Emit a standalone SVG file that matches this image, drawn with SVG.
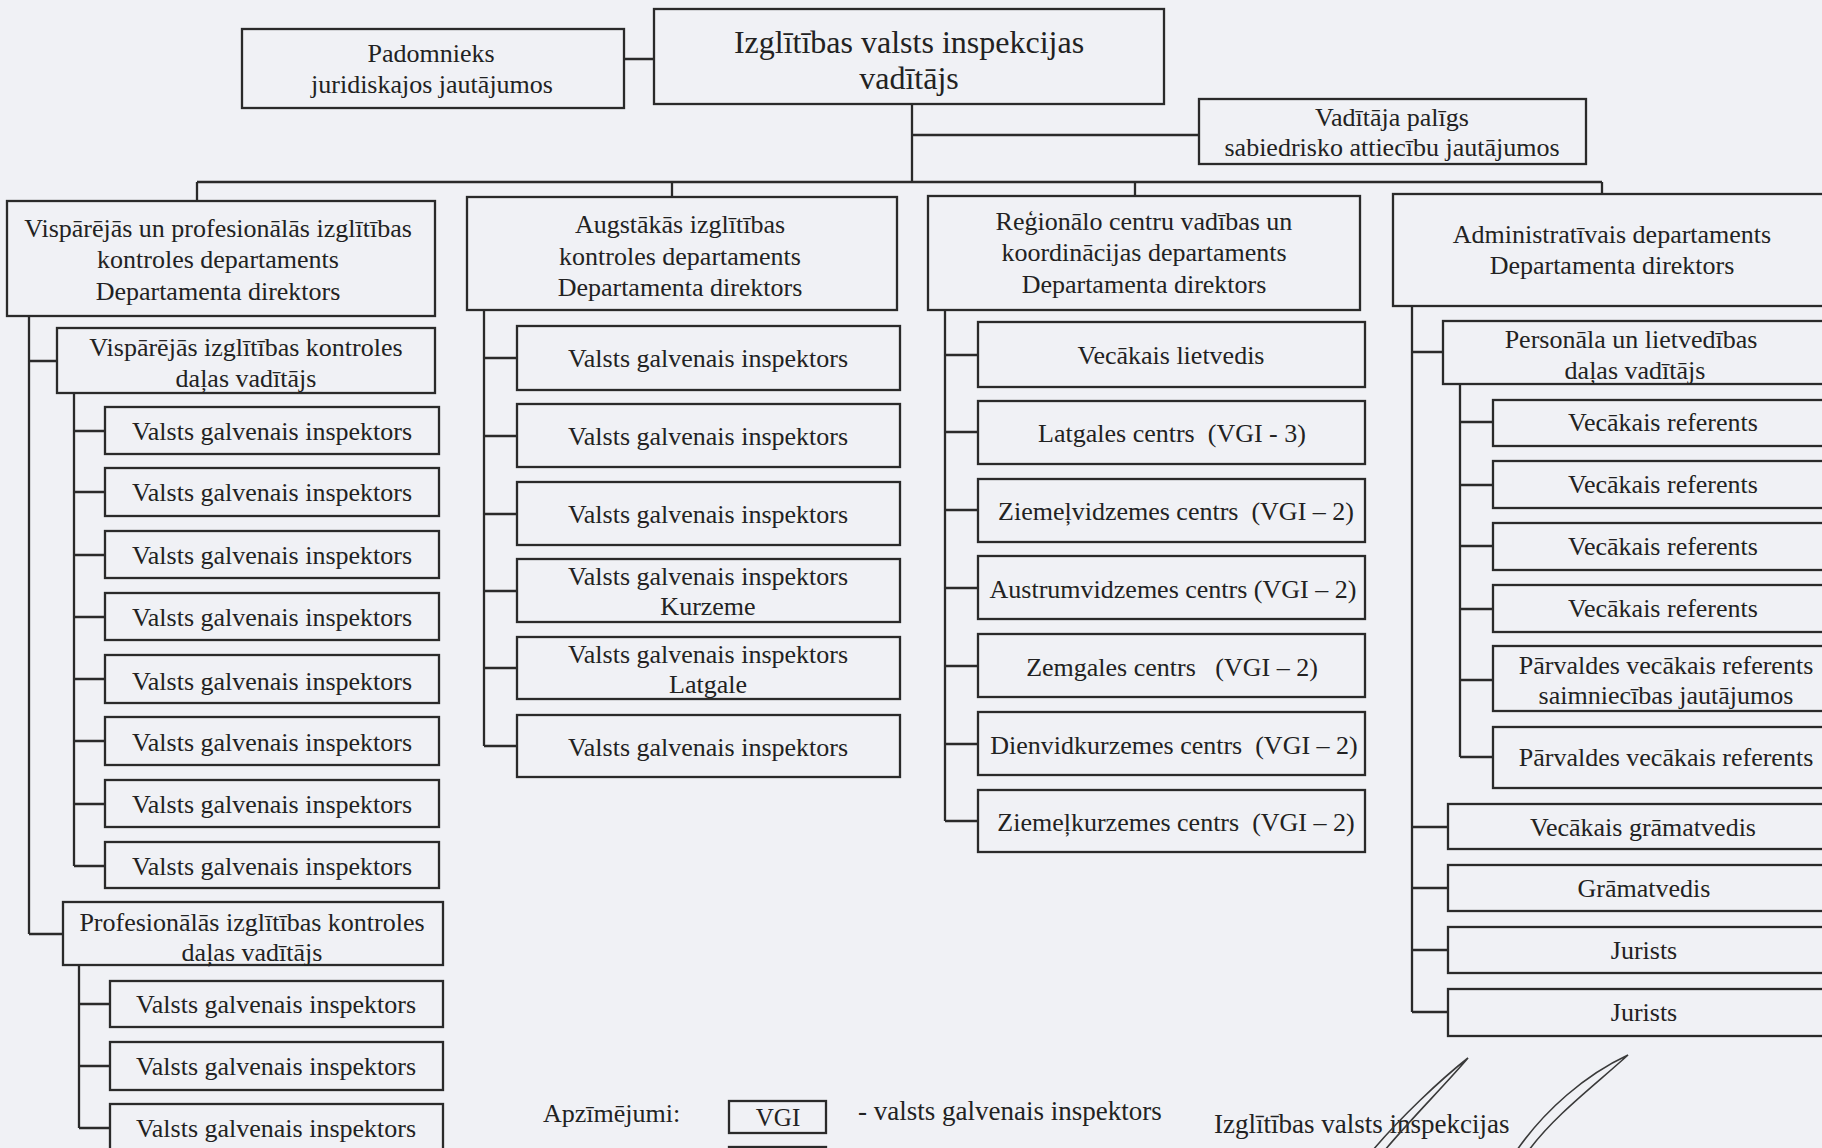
<svg xmlns="http://www.w3.org/2000/svg" width="1822" height="1148" viewBox="0 0 1822 1148">
<style>
.bg{fill:#f0f1f5}
.box{fill:none;stroke:#2a2a2a;stroke-width:2.3}
.conn{fill:none;stroke:#2a2a2a;stroke-width:2.3}
.t{font-family:"Liberation Serif","Times New Roman",serif;font-size:26px;fill:#222;text-anchor:middle;white-space:pre}
.l{text-anchor:start}
.big{font-size:32px}
.pen{fill:none;stroke:#3a3a3a;stroke-width:1.6}
</style>
<rect class="bg" x="0" y="0" width="1822" height="1148"/>

<g id="connectors">
<path class="conn" d="M624,59H654 M912,104V183 M912,135H1199 M197,182H1602 M197,182V201 M672,182V197 M1135,182V196 M1602,182V194"/>
<path class="conn" d="M29,316V934 M29,361H57 M29,934H63"/>
<path class="conn" d="M74,393V866 M74,431H105 M74,492H105 M74,555H105 M74,617H105 M74,679H105 M74,741H105 M74,804H105 M74,866H105"/>
<path class="conn" d="M79,965V1128 M79,1004H110 M79,1066H110 M79,1128H110"/>
<path class="conn" d="M484,310V746 M484,358H517 M484,436H517 M484,514H517 M484,591H517 M484,668H517 M484,746H517"/>
<path class="conn" d="M945,310V821 M945,355H978 M945,432H978 M945,510H978 M945,588H978 M945,666H978 M945,744H978 M945,821H978"/>
<path class="conn" d="M1412,306V1012 M1412,352H1443 M1412,827H1448 M1412,888H1448 M1412,950H1448 M1412,1012H1448"/>
<path class="conn" d="M1460,384V757 M1460,422H1493 M1460,485H1493 M1460,546H1493 M1460,609H1493 M1460,680H1493 M1460,757H1493"/>
</g>

<g id="n-padomnieks"><rect class="box" x="242" y="29" width="382" height="79"/>
<text class="t" x="431" y="62">Padomnieks</text><text class="t" x="432" y="93">juridiskajos jautājumos</text></g>
<g id="n-vaditajs"><rect class="box" x="654" y="9" width="510" height="95"/>
<text class="t big" x="909" y="53">Izglītības valsts inspekcijas</text><text class="t big" x="909" y="89">vadītājs</text></g>
<g id="n-paligs"><rect class="box" x="1199" y="99" width="387" height="65"/>
<text class="t" x="1392" y="126">Vadītāja palīgs</text><text class="t" x="1392" y="156">sabiedrisko attiecību jautājumos</text></g>

<g id="n-dep1"><rect class="box" x="7" y="201" width="428" height="115"/>
<text class="t" x="218" y="237">Vispārējās un profesionālās izglītības</text><text class="t" x="218" y="268">kontroles departaments</text><text class="t" x="218" y="300">Departamenta direktors</text></g>
<g id="n-dep2"><rect class="box" x="467" y="197" width="430" height="113"/>
<text class="t" x="680" y="233">Augstākās izglītības</text><text class="t" x="680" y="265">kontroles departaments</text><text class="t" x="680" y="296">Departamenta direktors</text></g>
<g id="n-dep3"><rect class="box" x="928" y="196" width="432" height="114"/>
<text class="t" x="1144" y="230">Reģionālo centru vadības un</text><text class="t" x="1144" y="261">koordinācijas departaments</text><text class="t" x="1144" y="293">Departamenta direktors</text></g>
<g id="n-dep4"><rect class="box" x="1393" y="194" width="450" height="112"/>
<text class="t" x="1612" y="243">Administratīvais departaments</text><text class="t" x="1612" y="274">Departamenta direktors</text></g>

<g id="n-d1-visp"><rect class="box" x="57" y="328" width="378" height="65"/>
<text class="t" x="246" y="356">Vispārējās izglītības kontroles</text><text class="t" x="246" y="387">daļas vadītājs</text></g>
<g id="n-d1-v1"><rect class="box" x="105" y="407" width="334" height="47"/><text class="t" x="272" y="440">Valsts galvenais inspektors</text></g>
<g id="n-d1-v2"><rect class="box" x="105" y="468" width="334" height="48"/><text class="t" x="272" y="501">Valsts galvenais inspektors</text></g>
<g id="n-d1-v3"><rect class="box" x="105" y="531" width="334" height="47"/><text class="t" x="272" y="564">Valsts galvenais inspektors</text></g>
<g id="n-d1-v4"><rect class="box" x="105" y="593" width="334" height="47"/><text class="t" x="272" y="626">Valsts galvenais inspektors</text></g>
<g id="n-d1-v5"><rect class="box" x="105" y="655" width="334" height="48"/><text class="t" x="272" y="690">Valsts galvenais inspektors</text></g>
<g id="n-d1-v6"><rect class="box" x="105" y="717" width="334" height="48"/><text class="t" x="272" y="751">Valsts galvenais inspektors</text></g>
<g id="n-d1-v7"><rect class="box" x="105" y="780" width="334" height="47"/><text class="t" x="272" y="813">Valsts galvenais inspektors</text></g>
<g id="n-d1-v8"><rect class="box" x="105" y="842" width="334" height="46"/><text class="t" x="272" y="875">Valsts galvenais inspektors</text></g>

<g id="n-d1-prof"><rect class="box" x="63" y="902" width="380" height="63"/>
<text class="t" x="252" y="931">Profesionālās izglītības kontroles</text><text class="t" x="252" y="961">daļas vadītājs</text></g>
<g id="n-d1-p1"><rect class="box" x="110" y="981" width="333" height="46"/><text class="t" x="276" y="1013">Valsts galvenais inspektors</text></g>
<g id="n-d1-p2"><rect class="box" x="110" y="1042" width="333" height="48"/><text class="t" x="276" y="1075">Valsts galvenais inspektors</text></g>
<g id="n-d1-p3"><rect class="box" x="110" y="1104" width="333" height="50"/><text class="t" x="276" y="1137">Valsts galvenais inspektors</text></g>

<g id="n-d2-v1"><rect class="box" x="517" y="326" width="383" height="64"/><text class="t" x="708" y="367">Valsts galvenais inspektors</text></g>
<g id="n-d2-v2"><rect class="box" x="517" y="404" width="383" height="63"/><text class="t" x="708" y="445">Valsts galvenais inspektors</text></g>
<g id="n-d2-v3"><rect class="box" x="517" y="482" width="383" height="63"/><text class="t" x="708" y="523">Valsts galvenais inspektors</text></g>
<g id="n-d2-v4"><rect class="box" x="517" y="559" width="383" height="63"/><text class="t" x="708" y="585">Valsts galvenais inspektors</text><text class="t" x="708" y="615">Kurzeme</text></g>
<g id="n-d2-v5"><rect class="box" x="517" y="637" width="383" height="62"/><text class="t" x="708" y="663">Valsts galvenais inspektors</text><text class="t" x="708" y="693">Latgale</text></g>
<g id="n-d2-v6"><rect class="box" x="517" y="715" width="383" height="62"/><text class="t" x="708" y="756">Valsts galvenais inspektors</text></g>

<g id="n-d3-1"><rect class="box" x="978" y="322" width="387" height="65"/><text class="t" x="1171" y="364">Vecākais lietvedis</text></g>
<g id="n-d3-2"><rect class="box" x="978" y="401" width="387" height="63"/><text class="t" x="1172" y="442">Latgales centrs  (VGI - 3)</text></g>
<g id="n-d3-3"><rect class="box" x="978" y="479" width="387" height="63"/><text class="t" x="1176" y="520">Ziemeļvidzemes centrs  (VGI – 2)</text></g>
<g id="n-d3-4"><rect class="box" x="978" y="556" width="387" height="63"/><text class="t" x="1173" y="598">Austrumvidzemes centrs (VGI – 2)</text></g>
<g id="n-d3-5"><rect class="box" x="978" y="634" width="387" height="63"/><text class="t" x="1172" y="676">Zemgales centrs   (VGI – 2)</text></g>
<g id="n-d3-6"><rect class="box" x="978" y="712" width="387" height="63"/><text class="t" x="1174" y="754">Dienvidkurzemes centrs  (VGI – 2)</text></g>
<g id="n-d3-7"><rect class="box" x="978" y="790" width="387" height="62"/><text class="t" x="1176" y="831">Ziemeļkurzemes centrs  (VGI – 2)</text></g>

<g id="n-d4-pers"><rect class="box" x="1443" y="321" width="400" height="63"/>
<text class="t" x="1631" y="348">Personāla un lietvedības</text><text class="t" x="1635" y="379">daļas vadītājs</text></g>
<g id="n-d4-r1"><rect class="box" x="1493" y="400" width="350" height="46"/><text class="t" x="1663" y="431">Vecākais referents</text></g>
<g id="n-d4-r2"><rect class="box" x="1493" y="461" width="350" height="47"/><text class="t" x="1663" y="493">Vecākais referents</text></g>
<g id="n-d4-r3"><rect class="box" x="1493" y="523" width="350" height="47"/><text class="t" x="1663" y="555">Vecākais referents</text></g>
<g id="n-d4-r4"><rect class="box" x="1493" y="585" width="350" height="47"/><text class="t" x="1663" y="617">Vecākais referents</text></g>
<g id="n-d4-r5"><rect class="box" x="1493" y="646" width="350" height="65"/><text class="t" x="1666" y="674">Pārvaldes vecākais referents</text><text class="t" x="1666" y="704">saimniecības jautājumos</text></g>
<g id="n-d4-r6"><rect class="box" x="1493" y="727" width="350" height="61"/><text class="t" x="1666" y="766">Pārvaldes vecākais referents</text></g>
<g id="n-d4-gr1"><rect class="box" x="1448" y="804" width="395" height="45"/><text class="t" x="1643" y="836">Vecākais grāmatvedis</text></g>
<g id="n-d4-gr2"><rect class="box" x="1448" y="865" width="395" height="46"/><text class="t" x="1644" y="897">Grāmatvedis</text></g>
<g id="n-d4-j1"><rect class="box" x="1448" y="927" width="395" height="46"/><text class="t" x="1644" y="959">Jurists</text></g>
<g id="n-d4-j2"><rect class="box" x="1448" y="989" width="395" height="47"/><text class="t" x="1644" y="1021">Jurists</text></g>

<g id="legend">
<text class="t l" x="543" y="1122" style="font-size:26px">Apzīmējumi:</text>
<rect class="box" x="729" y="1101" width="97" height="32"/>
<text class="t" x="778" y="1126" style="font-size:25px">VGI</text>
<rect class="box" x="729" y="1147" width="97" height="32"/>
<text class="t l" x="858" y="1120" style="font-size:27px">- valsts galvenais inspektors</text>
<text class="t l" x="1214" y="1133" style="font-size:27px">Izglītības valsts inspekcijas</text>
</g>
<g id="signature">
<path class="pen" d="M1373,1150 C1400,1118 1440,1080 1468,1058 C1445,1085 1410,1120 1385,1150"/>
<path class="pen" d="M1517,1150 C1545,1110 1585,1075 1628,1055 C1595,1085 1555,1115 1529,1150"/>
</g>
</svg>
